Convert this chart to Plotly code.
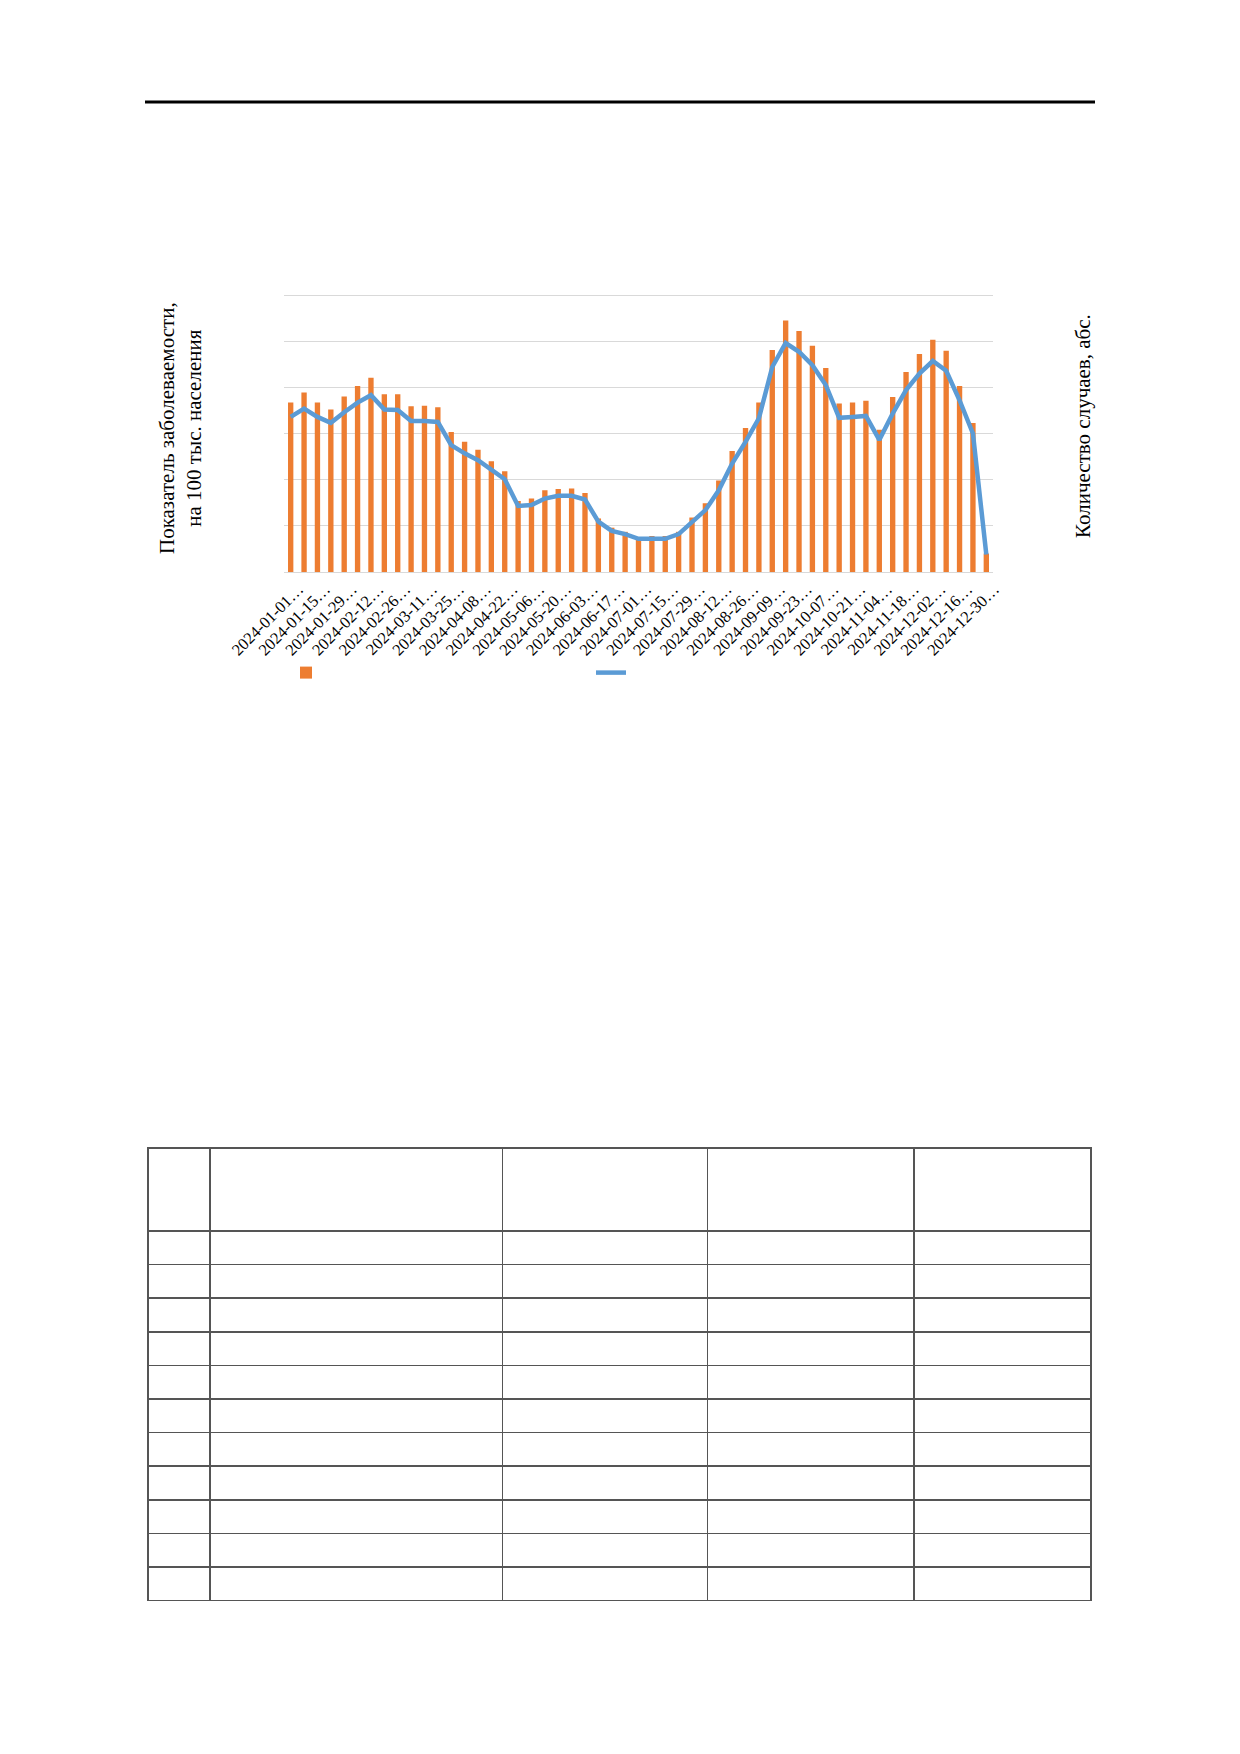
import plotly.graph_objects as go

weeks = [
    "2024-01-01", "2024-01-08", "2024-01-15", "2024-01-22", "2024-01-29",
    "2024-02-05", "2024-02-12", "2024-02-19", "2024-02-26",
    "2024-03-04", "2024-03-11", "2024-03-18", "2024-03-25",
    "2024-04-01", "2024-04-08", "2024-04-15", "2024-04-22", "2024-04-29",
    "2024-05-06", "2024-05-13", "2024-05-20", "2024-05-27",
    "2024-06-03", "2024-06-10", "2024-06-17", "2024-06-24",
    "2024-07-01", "2024-07-08", "2024-07-15", "2024-07-22", "2024-07-29",
    "2024-08-05", "2024-08-12", "2024-08-19", "2024-08-26",
    "2024-09-02", "2024-09-09", "2024-09-16", "2024-09-23", "2024-09-30",
    "2024-10-07", "2024-10-14", "2024-10-21", "2024-10-28",
    "2024-11-04", "2024-11-11", "2024-11-18", "2024-11-25",
    "2024-12-02", "2024-12-09", "2024-12-16", "2024-12-23", "2024-12-30",
]

# incidence per 100k (bars) in gridline units
incidence = [
    3.67, 3.89, 3.67, 3.52, 3.80, 4.03, 4.21, 3.85, 3.85, 3.59, 3.60, 3.57,
    3.03, 2.82, 2.65, 2.40, 2.18, 1.54, 1.59, 1.77, 1.80, 1.81, 1.71, 1.16,
    0.96, 0.87, 0.72, 0.78, 0.78, 0.87, 1.18, 1.49, 1.98, 2.62, 3.12, 3.67,
    4.81, 5.45, 5.22, 4.90, 4.42, 3.65, 3.67, 3.71, 3.08, 3.79, 4.33, 4.72,
    5.03, 4.79, 4.03, 3.23, 0.40,
]

# absolute case counts (line), same units
cases = [
    3.36, 3.54, 3.36, 3.23, 3.46, 3.67, 3.83, 3.52, 3.51, 3.27, 3.27, 3.25,
    2.75, 2.57, 2.42, 2.21, 2.01, 1.43, 1.45, 1.59, 1.65, 1.65, 1.57, 1.09,
    0.89, 0.82, 0.72, 0.72, 0.72, 0.82, 1.09, 1.34, 1.77, 2.35, 2.82, 3.33,
    4.44, 4.96, 4.77, 4.48, 4.05, 3.34, 3.36, 3.38, 2.86, 3.43, 3.94, 4.30,
    4.57, 4.36, 3.72, 3.00, 0.38,
]

tick_weeks = weeks[::2]
tick_labels = [w + "\u2026" for w in tick_weeks]

table_header = ["", "", "", "", ""]
table_rows = 11

W, H = 1240, 1754
PAGE_OFFSET = 8  # default body margin of the html page
SERIF = "Liberation Serif, Times New Roman, serif"
YTOP = 6.03  # a hair above the top gridline so it isn't clipped


def px_x(v):
    return (v - PAGE_OFFSET) / W


def px_y(v):
    return 1 - (v - PAGE_OFFSET) / H


fig = go.Figure()

fig.add_trace(go.Bar(
    x=weeks, y=incidence, name=" ",
    marker=dict(color="#ED7D31", line=dict(width=0)),
))
fig.add_trace(go.Scatter(
    x=weeks, y=cases, name=" ", yaxis="y2", mode="lines",
    line=dict(color="#5B9BD5", width=4.5),
))

fig.add_trace(go.Table(
    domain=dict(x=[px_x(148), px_x(1092)], y=[px_y(1601), px_y(1148)]),
    columnwidth=[62, 293, 205, 207, 177],
    header=dict(values=table_header, height=83,
                line=dict(color="#555555", width=1.5),
                fill=dict(color="white")),
    cells=dict(values=[[""] * table_rows for _ in table_header], height=33.6,
               line=dict(color="#555555", width=1.5),
               fill=dict(color="white")),
))

fig.update_layout(
    width=W, height=H,
    margin=dict(l=0, r=0, t=0, b=0, autoexpand=False),
    paper_bgcolor="white", plot_bgcolor="white",
    font=dict(family=SERIF, color="black", size=16),
    bargap=0.6,
    showlegend=True,
    legend=dict(orientation="h", x=px_x(286), y=px_y(673),
                xanchor="left", yanchor="middle",
                entrywidth=260, entrywidthmode="pixels",
                font=dict(size=14), bgcolor="rgba(0,0,0,0)"),
    xaxis=dict(
        domain=[px_x(284), px_x(993)], type="category", automargin=False,
        tickmode="array", tickvals=tick_weeks, ticktext=tick_labels,
        tickangle=-45, tickfont=dict(family=SERIF, size=16.5, color="black"),
        ticklabelshift=8,
        showgrid=False, showline=True, linecolor="#D9D9D9", linewidth=1,
        ticks="", anchor="y",
    ),
    yaxis=dict(
        domain=[px_y(572), px_y(295 - (YTOP - 6) * 46.2)], range=[0, YTOP],
        tick0=0, dtick=1, automargin=False,
        showgrid=True, gridcolor="#D9D9D9", gridwidth=1,
        showticklabels=False, zeroline=False, ticks="",
    ),
    yaxis2=dict(
        overlaying="y", side="right", range=[0, YTOP], automargin=False,
        showgrid=False, showticklabels=False, zeroline=False, ticks="",
    ),
    shapes=[dict(type="line", xref="paper", yref="paper",
                 x0=px_x(145), x1=px_x(1095), y0=px_y(102), y1=px_y(102),
                 line=dict(color="black", width=3))],
    annotations=[
        dict(text="Показатель заболеваемости,<br>на 100 тыс. населения",
             xref="paper", yref="paper", x=px_x(181), y=px_y(428),
             xanchor="center", yanchor="middle", textangle=-90,
             showarrow=False, font=dict(family=SERIF, size=21, color="black")),
        dict(text="Количество случаев, абс.",
             xref="paper", yref="paper", x=px_x(1083), y=px_y(426),
             xanchor="center", yanchor="middle", textangle=-90,
             showarrow=False, font=dict(family=SERIF, size=21, color="black")),
    ],
)

fig.write_html("out.html")
